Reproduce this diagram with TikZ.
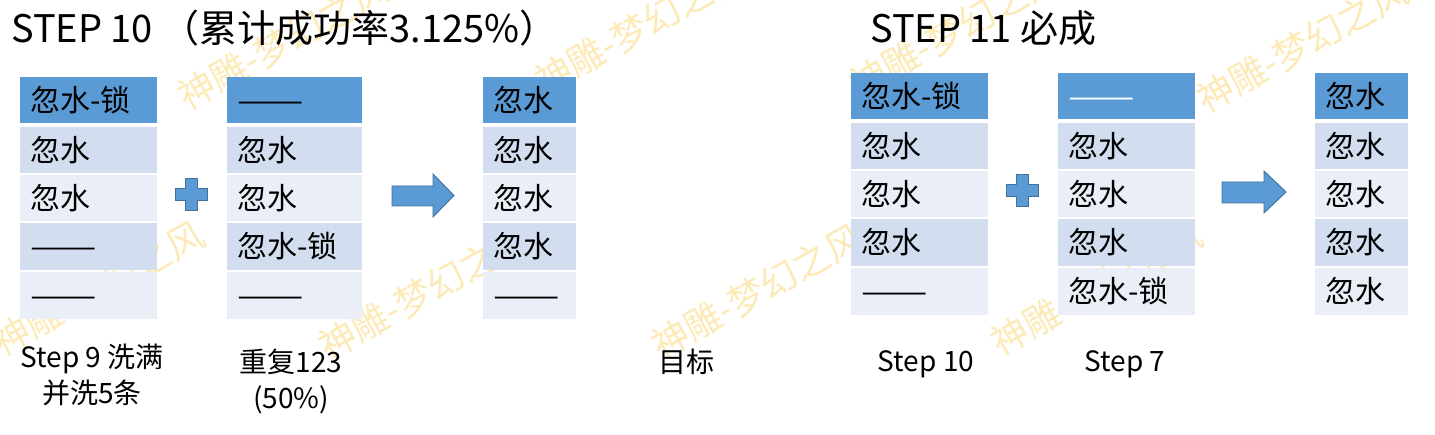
\documentclass[tikz,border=0pt]{standalone}
\usepackage{fontspec}
\setmainfont{Noto Sans CJK SC}
\definecolor{hdr}{HTML}{5B9BD5}
\definecolor{rowA}{HTML}{D2DEEF}
\definecolor{rowB}{HTML}{EAEFF7}
\definecolor{shapeline}{HTML}{41719C}
\definecolor{wmcol}{RGB}{252,234,184}
\newcommand{\dd}{{\addfontfeature{FakeStretch=1.32}——}}
\newcommand{\drawtable}[9]{%
  \pgfmathsetmacro{\tw}{#3-20}%
  \node[cell,fill=hdr,minimum width=#3pt,text width=\tw pt,minimum height=45.5pt] (#1-1) at (#2,#4) {#5};
  \node[cell,fill=rowA,minimum width=#3pt,text width=\tw pt,minimum height=45.5pt] (#1-2) at (#2,#4+50) {#6};
  \node[cell,fill=rowB,minimum width=#3pt,text width=\tw pt,minimum height=46pt] (#1-3) at (#2,#4+97.5) {#7};
  \node[cell,fill=rowA,minimum width=#3pt,text width=\tw pt,minimum height=46.5pt] (#1-4) at (#2,#4+146) {#8};
  \node[cell,fill=rowB,minimum width=#3pt,text width=\tw pt,minimum height=46.5pt] (#1-5) at (#2,#4+195) {#9};
}
\begin{document}
\begin{tikzpicture}[x=1pt,y=-1pt,
  cell/.style={rectangle,inner xsep=10pt,inner ysep=0pt,anchor=north west,align=left,
    font=\fontsize{30}{36}\selectfont,text height=24pt,text depth=1.2pt},
  title/.style={anchor=base west,inner sep=0pt,font=\fontsize{38}{44}\selectfont},
  lbl/.style={inner sep=0pt,align=center,font=\fontsize{28}{36}\selectfont},
  wmark/.style={inner sep=0pt,rotate=29,text=wmcol,font=\fontsize{37}{40}\selectfont},
  shp/.style={fill=hdr,draw=shapeline,line width=0.9pt,line join=miter}]
\useasboundingbox (0,0) rectangle (1435,435);
% watermark
\node[wmark] (wm1) at (283,42) {神雕-梦幻之风};
\node[wmark] (wm2) at (640,27) {神雕-梦幻之风};
\node[wmark] (wm3) at (955,30) {神雕-梦幻之风};
\node[wmark] (wm4) at (1302,45) {神雕-梦幻之风};
\node[wmark] (wm5) at (98,288) {神雕-梦幻之风};
\node[wmark] (wm6) at (424,292) {神雕-梦幻之风};
\node[wmark] (wm7) at (757,291) {神雕-梦幻之风};
\node[wmark] (wm8) at (1096,288) {神雕-梦幻之风};
% titles
\node[title] (t1) at (11,43) {STEP 10 （累计成功率3.125\%）};
\node[title] (t2) at (870,43) {STEP 11 必成};
% tables
\drawtable{a}{20}{137}{77}{忽水-锁}{忽水}{忽水}{\dd}{\dd}
\drawtable{b}{227}{135}{77}{\dd}{忽水}{忽水}{忽水-锁}{\dd}
\drawtable{c}{483}{93}{77}{忽水}{忽水}{忽水}{忽水}{\dd}
\drawtable{d}{851}{137}{73}{忽水-锁}{忽水}{忽水}{忽水}{\dd}
\drawtable{e}{1058}{137}{73}{\textcolor{white}{\dd}}{忽水}{忽水}{忽水}{忽水-锁}
\drawtable{f}{1315}{93}{73}{忽水}{忽水}{忽水}{忽水}{忽水}
% plus signs
\draw[shp,shift={(191,194.5)}] (-6,-16) -- (6,-16) -- (6,-6) -- (16,-6) -- (16,6) -- (6,6) -- (6,16) -- (-6,16) -- (-6,6) -- (-16,6) -- (-16,-6) -- (-6,-6) -- cycle;
\draw[shp,shift={(1022,190.5)}] (-6,-16) -- (6,-16) -- (6,-6) -- (16,-6) -- (16,6) -- (6,6) -- (6,16) -- (-6,16) -- (-6,6) -- (-16,6) -- (-16,-6) -- (-6,-6) -- cycle;
% arrows
\draw[shp] (392,186) -- (433,186) -- (433,174) -- (454,195.5) -- (433,217) -- (433,206) -- (392,206) -- cycle;
\draw[shp] (1222,182) -- (1264,182) -- (1264,171) -- (1286,192) -- (1264,213) -- (1264,203) -- (1222,203) -- cycle;
% labels
\node[lbl] (l1) at (92,374.5) {Step 9 洗满\\并洗5条};
\node[lbl] (l2) at (291,381) {重复123\\(50\%)};
\node[lbl,anchor=base] (l3) at (686,373) {目标};
\node[lbl,anchor=base] (l4) at (926,372) {Step 10};
\node[lbl,anchor=base] (l5) at (1125,372) {Step 7};
\end{tikzpicture}
\end{document}
